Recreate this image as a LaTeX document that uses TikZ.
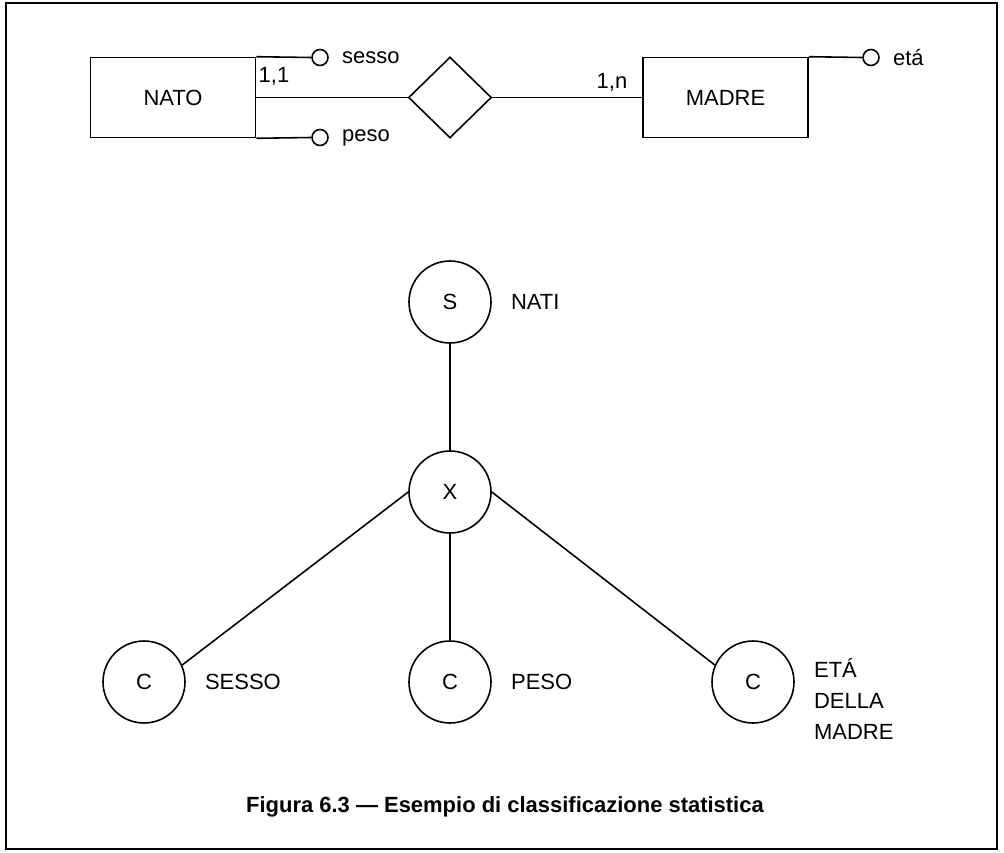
\documentclass[tikz,border=0pt]{standalone}
\usepackage{fontspec}
\setmainfont{Liberation Sans}
\usepackage{tikz}
\usetikzlibrary{positioning,shapes.geometric}

\begin{document}
\begin{tikzpicture}[
    line width=0.9pt,
    entity/.style={draw, minimum width=3.3cm, minimum height=1.6cm, font=\fontsize{12.5}{15}\selectfont},
    relation/.style={draw, diamond, inner sep=0pt, minimum width=1.66cm, minimum height=1.62cm},
    attr/.style={circle, draw, inner sep=0pt, minimum size=0.32cm},
    lbl/.style={font=\fontsize{12.5}{15}\selectfont, inner sep=2pt},
    knode/.style={circle, draw, minimum size=1.64cm, font=\fontsize{12.5}{15}\selectfont}
]
\useasboundingbox (0,0) rectangle (20.08,-17.06);
\draw[line width=1.2pt] (0.12,-0.06) rectangle (19.94,-16.98);

% schema E-R
\node[entity] (nato) at (3.46,-1.95) {NATO};
\node[relation] (rel) at (9.0,-1.95) {};
\node[entity] (madre) at (14.51,-1.95) {MADRE};

\node[attr] (sesso) at (6.4,-1.15) {};
\node[lbl, right=0.18cm of sesso] {sesso};
\node[attr] (peso) at (6.4,-2.75) {};
\node[lbl, right=0.18cm of peso] {peso};
\node[attr] (eta) at (17.42,-1.15) {};
\node[lbl, right=0.18cm of eta] {etá};

\draw (nato.north east) -- (sesso.west);
\draw (nato.south east) -- (peso.west);
\draw (madre.north east) -- (eta.west);
\draw (nato.east) -- (rel.west);
\draw (rel.east) -- (madre.west);
\node[lbl] at (5.48,-1.52) {1,1};
\node[lbl] at (12.24,-1.64) {1,n};

% classificazione
\node[knode] (s) at (9.0,-6.04) {S};
\node[lbl, right=0.3cm of s] {NATI};
\node[knode] (x) at (9.0,-9.84) {X};

\node[knode] (c1) at (2.88,-13.64) {C};
\node[lbl, right=0.3cm of c1] {SESSO};
\node[knode] (c2) at (9.0,-13.64) {C};
\node[lbl, right=0.3cm of c2] {PESO};
\node[knode] (c3) at (15.06,-13.64) {C};
\node[lbl, right=0.3cm of c3, yshift=-0.34cm, align=left,
    font=\fontsize{12.5}{17.6}\selectfont] {ETÁ\\DELLA\\MADRE};

\draw (s.south) -- (x.north);
\draw (x.west) -- (c1.24);
\draw (x.south) -- (c2.north);
\draw (x.east) -- (c3.156);

\node[font=\bfseries\fontsize{12.5}{15}\selectfont] (cap) at (10.1,-16.14)
    {Figura 6.3 --- Esempio di classificazione statistica};

\end{tikzpicture}
\end{document}
